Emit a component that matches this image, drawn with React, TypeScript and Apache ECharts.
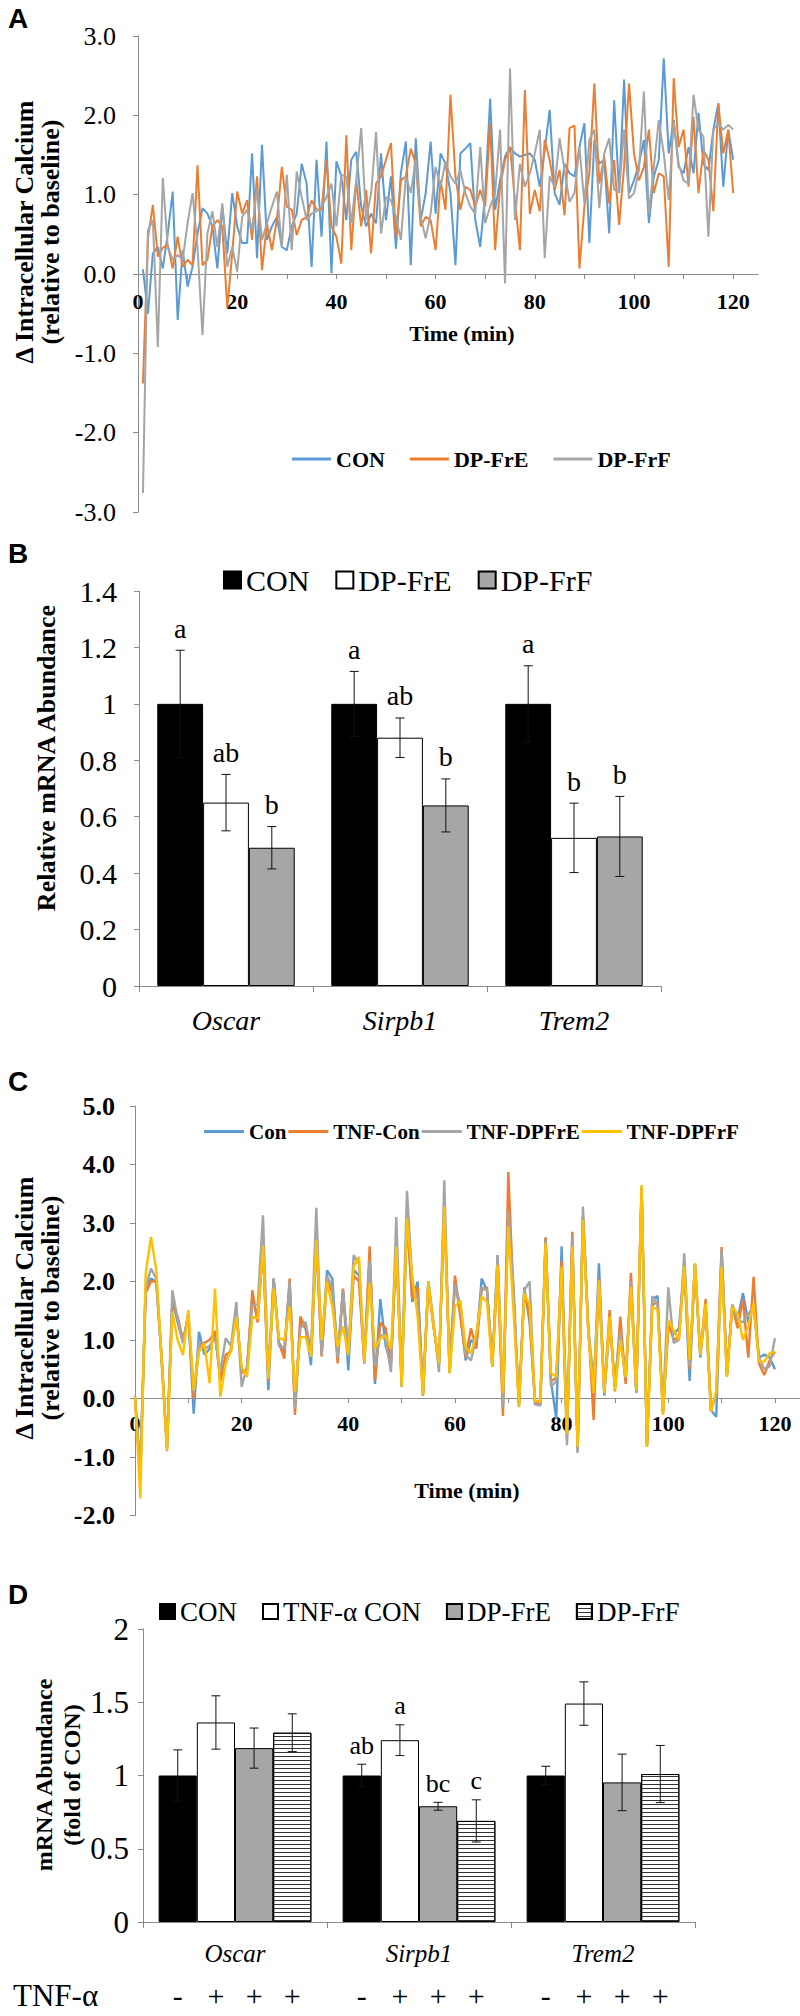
import React, { useEffect, useRef } from 'react';
import * as echarts from 'echarts';

const SERIF = "'Times New Roman', 'Liberation Serif', serif";
const SANS = "Arial, 'Liberation Sans', sans-serif";

// ---------- Panel A (t = 1..120 min) ----------
const aNames = ['CON', 'DP-FrE', 'DP-FrF'];
const aCon = [
  0.06, -0.5, 0.26, 0.34, 0.07, 0.51, 1.04, -0.58, 0.3, -0.16,
  0.09, 0.51, 0.83, 0.76, 0.6, 0.07, 0.85, 0.26, 1.02, 0.6,
  0.39, 0.39, 1.52, 0.2, 1.63, 0.43, 0.6, 0.72, 0.34, 0.3,
  0.6, 0.76, 1.39, 1.14, 0.09, 1.44, 0.47, 1.67, 0.01, 1.42,
  1.23, 0.68, 1.44, 1.54, 0.85, 0.6, 0.76, 0.64, 1.52, 0.68,
  1.23, 0.32, 1.27, 1.67, 0.11, 1.71, 0.68, 1.02, 1.67, 0.76,
  1.52, 1.39, 1.02, 0.11, 1.52, 1.58, 1.65, 0.68, 0.34, 1.02,
  2.21, 0.81, 1.18, 1.48, 1.6, 1.52, 1.48, 1.5, 1.52, 1.44,
  1.1, 1.56, 2.07, 1.02, 0.87, 1.39, 1.27, 1.23, 1.6, 1.9,
  0.39, 1.69, 1.39, 1.44, 0.51, 2.19, 1.02, 2.45, 1.02, 1.18,
  1.39, 1.69, 0.64, 1.23, 1.44, 2.72, 1.52, 1.94, 1.35, 1.27,
  1.6, 1.27, 2.03, 1.39, 1.31, 1.82, 2.15, 1.1, 1.82, 1.44,
];
const aFrE = [
  -1.38, 0.45, 0.87, 0.22, 0.33, 0.37, 0.07, 0.47, 0.09, 0.18,
  0.11, 1.37, 0.11, 0.18, 0.6, 0.68, 0.6, -0.43, 0.26, 1.04,
  0.76, 0.93, 0.43, 1.23, 0.05, 0.64, 0.3, 0.68, 1.35, 0.85,
  0.81, 0.49, 0.68, 0.72, 0.93, 0.81, 0.81, 1.44, 0.6, 0.47,
  0.13, 1.75, 0.3, 1.18, 0.6, 1.06, 0.26, 1.14, 1.23, 1.44,
  1.65, 0.47, 1.18, 1.23, 1.58, 1.39, 0.6, 0.72, 0.68, 0.3,
  1.18, 0.81, 2.26, 1.23, 0.81, 1.1, 1.06, 0.85, 1.06, 0.85,
  1.9, 0.3, 1.1, 1.44, 1.6, 0.93, 0.3, 2.32, 0.76, 1.06,
  0.79, 1.69, 1.44, 1.06, 1.31, 0.74, 1.84, 1.87, 0.07, 0.85,
  1.27, 2.4, 1.14, 1.48, 0.89, 1.44, 0.62, 1.35, 2.4, 1.52,
  1.18, 1.35, 1.82, 1.02, 1.27, 1.23, 0.09, 2.47, 1.6, 1.82,
  1.1, 1.98, 1.02, 1.56, 1.44, 0.79, 2.15, 1.52, 1.82, 1.02,
];
const aFrF = [
  -2.76, 0.55, 0.68, -0.92, 1.21, 0.34, 0.18, 0.24, 0.18, 0.64,
  1.02, 0.34, -0.77, 0.51, 0.79, 0.34, 0.89, 0.09, 0.34, 0.03,
  0.72, 0.81, 0.55, 1.08, 0.43, 0.64, 0.85, 1.04, 0.34, 1.25,
  0.3, 1.29, 0.97, 0.68, 0.76, 0.79, 0.85, 0.97, 1.14, 0.6,
  1.25, 1.23, 0.64, 1.18, 1.84, 0.68, 1.02, 1.79, 0.51, 0.97,
  0.93, 0.72, 0.43, 1.23, 1.02, 1.44, 0.72, 0.45, 0.76, 1.35,
  1.1, 1.42, 1.23, 1.14, 1.31, 1.02, 0.85, 0.76, 1.6, 0.64,
  0.85, 1.02, 1.82, -0.12, 2.59, 0.68, 1.39, 1.1, 1.27, 1.52,
  1.82, 0.2, 1.23, 1.1, 1.71, 1.31, 0.91, 1.02, 1.6, 0.89,
  1.69, 1.82, 0.83, 1.52, 1.71, 1.06, 1.04, 1.82, 0.95, 1.02,
  1.31, 2.3, 0.76, 1.35, 1.94, 1.52, 0.93, 1.92, 1.39, 1.18,
  1.14, 2.26, 1.82, 1.73, 0.47, 1.82, 1.9, 1.82, 1.88, 1.82,
];

// ---------- Panel B ----------
const genes = ['Oscar', 'Sirpb1', 'Trem2'];
const bNames = ['CON', 'DP-FrE', 'DP-FrF'];
const bMean = [
  [1.0, 1.0, 1.0],
  [0.65, 0.88, 0.525],
  [0.49, 0.64, 0.53],
];
const bErr = [
  [0.19, 0.115, 0.135],
  [0.1, 0.07, 0.123],
  [0.075, 0.094, 0.142],
];
const bLetters = [
  ['a', 'a', 'a'],
  ['ab', 'ab', 'b'],
  ['b', 'b', 'b'],
];

// ---------- Panel C (t = 0..120 min) ----------
const cNames = ['Con', 'TNF-Con', 'TNF-DPFrE', 'TNF-DPFrF'];
const cCon = [
  0.0, -1.3, 1.9, 2.05, 2.0, 0.7, -0.85, 1.7, 1.3, 0.95,
  1.45, -0.26, 1.14, 0.75, 0.85, 1.1, 0.35, 0.6, 0.85, 1.5,
  0.45, 0.5, 1.75, 1.35, 2.65, 0.14, 2.05, 0.95, 0.8, 1.95,
  -0.1, 1.3, 1.2, 0.57, 2.7, 0.75, 2.19, 2.05, 0.7, 1.85,
  0.48, 2.2, 2.1, 0.65, 2.4, 0.25, 1.7, 0.9, 0.6, 2.6,
  0.2, 3.1, 1.65, 2.0, 0.05, 2.0, 1.25, 0.55, 3.3, 0.45,
  2.0, 1.5, 0.65, 1.0, 0.9, 2.05, 1.85, 0.55, 2.45, -0.1,
  3.2, 1.7, -0.1, 1.9, 1.3, -0.05, -0.1, 2.75, 0.3, -0.35,
  2.6, -0.6, 2.75, -0.85, 3.1, 1.15, 0.1, 2.31, 0.05, 1.3,
  0.2, 1.1, 0.3, 1.95, 0.1, 3.62, -0.82, 1.7, 1.75, -0.25,
  1.2, 1.1, 1.2, 2.25, 0.3, 2.3, 0.7, 1.6, -0.2, -0.31,
  2.5, 0.4, 1.6, 1.35, 1.8, 1.3, 1.6, 0.7, 0.75, 0.7,
  0.5,
];
const cTnfCon = [
  0.0, -1.3, 1.8, 2.0, 2.0, 0.7, -0.85, 1.6, 1.4, 1.0,
  1.4, 0.0, 0.85, 0.95, 1.0, 1.15, 0.3, 0.75, 0.8, 1.5,
  0.45, 0.45, 1.85, 1.3, 2.6, 0.3, 2.05, 0.95, 0.68, 2.05,
  -0.28, 1.4, 1.2, 0.75, 2.75, 0.72, 2.05, 1.8, 0.6, 1.88,
  0.75, 2.1, 2.0, 0.6, 2.6, 0.3, 1.3, 1.2, 0.6, 2.6,
  0.3, 3.1, 1.7, 1.9, 0.05, 1.95, 1.2, 0.6, 3.3, 0.45,
  2.1, 1.4, 0.7, 1.2, 0.85, 1.85, 1.9, 0.55, 2.2, -0.3,
  3.87, 1.7, -0.1, 1.85, 1.4, -0.05, -0.1, 2.75, 0.3, 0.35,
  2.35, -0.7, 2.85, -0.9, 3.1, 1.25, -0.37, 2.05, 0.1, 1.51,
  0.12, 1.4, 0.25, 2.15, 0.1, 3.6, -0.8, 1.6, 1.65, -0.25,
  1.3, 1.0, 1.05, 2.3, 0.5, 2.3, 0.75, 1.7, -0.2, 0.1,
  2.59, 0.4, 1.6, 1.2, 1.7, 0.7, 2.08, 0.6, 0.4, 0.65,
  0.8,
];
const cTnfFrE = [
  0.05, -1.2, 1.9, 2.22, 2.05, 0.6, -0.9, 1.85, 1.35, 0.95,
  1.45, 0.1, 0.95, 0.85, 0.9, 1.05, 0.45, 1.03, 0.9, 1.65,
  0.2, 0.55, 1.6, 1.6, 3.13, 0.4, 2.05, 0.9, 0.85, 2.0,
  -0.17, 1.2, 1.31, 0.8, 3.26, 0.75, 2.1, 1.9, 0.7, 1.85,
  0.8, 2.45, 2.3, 0.6, 2.35, 0.55, 1.1, 1.0, 0.45, 3.1,
  0.3, 3.55, 2.0, 1.7, 0.1, 2.0, 1.3, 0.45, 3.73, 0.45,
  1.95, 1.6, 0.75, 0.65, 1.05, 1.9, 1.85, 0.6, 2.45, -0.15,
  3.2, 1.9, -0.15, 1.85, 2.0, -0.1, -0.12, 2.7, 0.2, 0.3,
  2.2, -0.8, 2.75, -0.93, 3.28, 1.2, 0.3, 2.0, 0.1, 1.3,
  0.3, 1.15, 0.35, 2.0, 0.1, 3.6, -0.8, 1.75, 1.6, -0.2,
  1.9, 0.95, 1.0, 2.48, 0.55, 2.3, 0.8, 1.5, -0.2, 0.05,
  2.55, 0.4, 1.6, 1.35, 1.3, 1.45, 1.55, 0.7, 0.5, 0.55,
  1.03,
];
const cTnfFrF = [
  0.03, -1.71, 2.14, 2.76, 2.19, 0.66, -0.88, 1.48, 1.0, 0.74,
  1.51, 0.14, 0.8, 0.94, 0.26, 1.88, 0.03, 0.6, 0.83, 1.4,
  0.54, 0.37, 1.4, 1.37, 2.62, 0.34, 1.88, 1.03, 1.0, 1.57,
  0.11, 1.05, 1.05, 0.71, 2.71, 1.0, 2.0, 1.57, 0.88, 1.23,
  0.74, 2.25, 2.42, 0.63, 1.97, 0.85, 1.03, 1.08, 0.85, 2.59,
  0.2, 3.08, 2.08, 1.4, 0.06, 2.0, 1.23, 0.6, 3.28, 0.43,
  1.57, 1.68, 0.88, 0.77, 1.11, 1.74, 1.65, 0.54, 2.28, 0.09,
  2.93, 1.46, -0.14, 1.8, 1.6, -0.03, -0.06, 2.65, 0.43, 0.37,
  2.25, -0.6, 2.6, -0.83, 3.05, 1.11, 0.09, 2.02, 0.09, 1.4,
  0.14, 1.0, 0.37, 1.91, 0.14, 3.65, -0.83, 1.57, 1.51, -0.28,
  1.34, 1.17, 1.0, 2.25, 0.66, 2.31, 0.74, 1.62, -0.23, 0.14,
  2.25, 0.37, 1.57, 1.45, 1.0, 1.23, 1.62, 0.63, 0.63, 0.77,
  0.8,
];

// ---------- Panel D ----------
const dNames = ['CON', 'TNF-α CON', 'DP-FrE', 'DP-FrF'];
const dMean = [
  [1.0, 1.0, 1.0],
  [1.362, 1.241, 1.491],
  [1.187, 0.79, 0.953],
  [1.292, 0.69, 1.01],
];
const dErr = [
  [0.175, 0.077, 0.063],
  [0.182, 0.105, 0.148],
  [0.137, 0.027, 0.193],
  [0.129, 0.144, 0.195],
];
const dLetters = [
  ['', 'ab', ''],
  ['', 'a', ''],
  ['', 'bc', ''],
  ['', 'c', ''],
];
const tnfSigns = ['-', '+', '+', '+'];

const AXIS_GRAY = '#8a8a8a';
const lineColorsA = ['#5B9BD5', '#ED7D31', '#A5A5A5'];
const lineColorsC = ['#5B9BD5', '#ED7D31', '#A5A5A5', '#FFC000'];

function errorSeries(
  id: string, axisIdx: number, means: number[][], errs: number[][], letters: string[][],
  catGap: number, letterFont: string, letterGap: number, signs?: string[], signOffset?: number,
) {
  const n = means.length;
  const data: number[][] = [];
  means.forEach((row, k) => row.forEach((m, c) => data.push([c, k, m, m - errs[k][c], m + errs[k][c]])));
  return {
    type: 'custom', id, xAxisIndex: axisIdx, yAxisIndex: axisIdx, silent: true, z: 10,
    encode: { x: 0, y: [2, 3, 4] },
    data,
    renderItem: (params: any, api: any) => {
      const c = api.value(0);
      const k = api.value(1);
      const band = api.size([1, 0])[0];
      const bw = (band * (1 - catGap)) / n;
      const cx = api.coord([c, 0])[0] + (k - (n - 1) / 2) * bw;
      const y0 = api.coord([c, 0])[1];
      const yLo = api.coord([c, api.value(3)])[1];
      const yHi = api.coord([c, api.value(4)])[1];
      const st = { stroke: '#111', lineWidth: 1 };
      const children: any[] = [
        { type: 'line', shape: { x1: cx, y1: yLo, x2: cx, y2: yHi }, style: st },
        { type: 'line', shape: { x1: cx - 4.5, y1: yHi, x2: cx + 4.5, y2: yHi }, style: st },
        { type: 'line', shape: { x1: cx - 4.5, y1: yLo, x2: cx + 4.5, y2: yLo }, style: st },
      ];
      const letter = letters[k][c];
      if (letter) {
        children.push({
          type: 'text',
          style: { text: letter, x: cx, y: yHi - letterGap, align: 'center', verticalAlign: 'bottom', font: letterFont, fill: '#000' },
        });
      }
      if (signs) {
        children.push({
          type: 'text',
          style: { text: signs[k], x: cx, y: y0 + (signOffset || 0), align: 'center', verticalAlign: 'middle', font: `30px ${SERIF}`, fill: '#000' },
        });
      }
      return { type: 'group', children };
    },
  };
}

function vText(text: string, x: number, y: number, font: string) {
  return {
    type: 'text', x, y, rotation: Math.PI / 2, silent: true,
    style: { text, x: 0, y: 0, align: 'center', verticalAlign: 'middle', textAlign: 'center', textVerticalAlign: 'middle', font, fill: '#000' },
  };
}
function hText(text: string, x: number, y: number, font: string, align = 'center', vAlign = 'middle') {
  return {
    type: 'text', x, y, silent: true,
    style: { text, x: 0, y: 0, align, verticalAlign: vAlign, textAlign: align, textVerticalAlign: vAlign, font, fill: '#000' },
  };
}

function buildOption() {
  const strip = (n: string) => n.slice(2);
  // x axis drawn through y = 0 by offsetting it up from the grid bottom
  const valueX = (gridIndex: number, max: number, fontSize: number, margin: number, offset: number) => ({
    type: 'value', gridIndex, min: 0, max, interval: 10, offset,
    axisLine: { show: true, onZero: false, lineStyle: { color: AXIS_GRAY, width: 1 } },
    axisTick: { show: true, length: 5, lineStyle: { color: AXIS_GRAY } },
    axisLabel: {
      formatter: (v: number) => (v % 20 === 0 ? String(v) : ''), showMaxLabel: false,
      fontFamily: SERIF, fontWeight: 'bold', fontSize, color: '#000', margin,
    },
    splitLine: { show: false },
  });
  const valueY = (gridIndex: number, min: number, max: number, interval: number, font: any, margin: number, fixed: boolean) => ({
    type: 'value', gridIndex, min, max, interval,
    axisLine: { show: true, onZero: false, lineStyle: { color: AXIS_GRAY, width: 1 } },
    axisTick: { show: true, length: 5, lineStyle: { color: AXIS_GRAY } },
    axisLabel: { ...font, color: '#000', margin, formatter: fixed ? (v: number) => v.toFixed(1) : undefined },
    splitLine: { show: false },
  });
  const catX = (gridIndex: number, fontSize: number, margin: number) => ({
    type: 'category', gridIndex, data: genes,
    axisLine: { show: true, lineStyle: { color: AXIS_GRAY, width: 1 } },
    axisTick: { show: true, length: 6, lineStyle: { color: AXIS_GRAY } },
    axisLabel: { fontFamily: SERIF, fontStyle: 'italic', fontSize, color: '#000', margin },
    splitLine: { show: false },
  });

  const aSeries = [aCon, aFrE, aFrF].map((arr, i) => ({
    type: 'line', name: 'A:' + aNames[i], xAxisIndex: 0, yAxisIndex: 0,
    data: arr.map((v, t) => [t + 1, v]), symbol: 'none', color: lineColorsA[i],
    lineStyle: { width: 2, color: lineColorsA[i] },
  }));
  const cSeries = [cCon, cTnfCon, cTnfFrE, cTnfFrF].map((arr, i) => ({
    type: 'line', name: 'C:' + cNames[i], xAxisIndex: 2, yAxisIndex: 2,
    data: arr.map((v, t) => [t, v]), symbol: 'none', color: lineColorsC[i],
    lineStyle: { width: 2.4, color: lineColorsC[i] },
  }));
  const bColors = ['#000000', '#ffffff', '#a6a6a6'];
  const bSeries = bMean.map((row, i) => ({
    type: 'bar', name: 'B:' + bNames[i], xAxisIndex: 1, yAxisIndex: 1, data: row,
    barGap: '0%', barCategoryGap: '21%',
    itemStyle: { color: bColors[i], borderColor: '#000', borderWidth: 1 },
  }));
  const dColors = ['#000000', '#ffffff', '#a6a6a6', '#ffffff'];
  const dSeries = dMean.map((row, i) => ({
    type: 'bar', name: 'D:' + dNames[i], xAxisIndex: 3, yAxisIndex: 3, data: row,
    barGap: '0%', barCategoryGap: '17%',
    itemStyle: {
      color: dColors[i], borderColor: '#000', borderWidth: 1,
      ...(i === 3 ? { decal: { symbol: 'rect', symbolSize: 1, dashArrayX: [1, 0], dashArrayY: [1, 3], color: '#333', rotation: 0 } } : {}),
    },
  }));

  return {
    animation: false,
    backgroundColor: '#ffffff',
    grid: [
      { left: 138, top: 36, width: 620, height: 476 },
      { left: 139, top: 591, width: 522, height: 395 },
      { left: 135, top: 1106, width: 665, height: 409.5 },
      { left: 143, top: 1629, width: 552, height: 293 },
    ],
    xAxis: [
      valueX(0, 125, 22, 16, -238),
      catX(1, 28, 20),
      valueX(2, 124.7, 22, 14, -117.5),
      catX(3, 25, 19),
    ],
    yAxis: [
      valueY(0, -3, 3, 1, { fontFamily: SERIF, fontSize: 26 }, 22, true),
      valueY(1, 0, 1.4, 0.2, { fontFamily: SERIF, fontSize: 30 }, 22, false),
      valueY(2, -2, 5, 1, { fontFamily: SERIF, fontSize: 26, fontWeight: 'bold' }, 20, true),
      valueY(3, 0, 2, 0.5, { fontFamily: SERIF, fontSize: 31 }, 14, false),
    ],
    legend: [
      {
        data: aNames.map((n) => 'A:' + n), left: 287, top: 443, icon: 'rect', itemWidth: 39, itemHeight: 3, itemGap: 25,
        formatter: strip, selectedMode: false, textStyle: { fontFamily: SERIF, fontWeight: 'bold', fontSize: 22, color: '#000' },
      },
      {
        data: bNames.map((n) => 'B:' + n), left: 218, top: 560, icon: 'rect', itemWidth: 17, itemHeight: 17, itemGap: 26,
        formatter: strip, selectedMode: false, textStyle: { fontFamily: SERIF, fontSize: 30, color: '#000' },
      },
      {
        data: cNames.map((n) => 'C:' + n), left: 199, top: 1116, icon: 'rect', itemWidth: 40, itemHeight: 3, itemGap: 2,
        formatter: strip, selectedMode: false, textStyle: { fontFamily: SERIF, fontWeight: 'bold', fontSize: 21, color: '#000' },
      },
      {
        data: dNames.map((n) => 'D:' + n), left: 154, top: 1593, icon: 'rect', itemWidth: 15, itemHeight: 15, itemGap: 25,
        formatter: strip, selectedMode: false, textStyle: { fontFamily: SERIF, fontSize: 27, color: '#000' },
      },
    ],
    graphic: [
      hText('A', 8, 4, `bold 28px ${SANS}`, 'left', 'top'),
      hText('B', 8, 539, `bold 28px ${SANS}`, 'left', 'top'),
      hText('C', 8, 1067, `bold 28px ${SANS}`, 'left', 'top'),
      hText('D', 8, 1580, `bold 28px ${SANS}`, 'left', 'top'),
      vText('Δ Intracellular Calcium', 24, 232, `bold 26px ${SERIF}`),
      vText('(relative to baseline)', 50, 232, `bold 26px ${SERIF}`),
      hText('Time (min)', 462, 333, `bold 22px ${SERIF}`),
      vText('Relative mRNA Abundance', 46, 758, `bold 26px ${SERIF}`),
      vText('Δ Intracellular Calcium', 24, 1308, `bold 26px ${SERIF}`),
      vText('(relative to baseline)', 50, 1308, `bold 26px ${SERIF}`),
      hText('Time (min)', 467, 1490, `bold 22px ${SERIF}`),
      vText('mRNA Abundance', 44, 1775, `bold 24px ${SERIF}`),
      vText('(fold of CON)', 72, 1775, `bold 24px ${SERIF}`),
      hText('TNF-α', 13, 1995, `31px ${SERIF}`, 'left', 'middle'),
    ],
    series: [
      ...aSeries,
      ...bSeries,
      errorSeries('errB', 1, bMean, bErr, bLetters, 0.21, `28px ${SERIF}`, 8),
      ...cSeries,
      ...dSeries,
      errorSeries('errD', 3, dMean, dErr, dLetters, 0.17, `26px ${SERIF}`, 6, tnfSigns, 73),
    ],
  };
}

export default function App() {
  const ref = useRef<HTMLDivElement>(null);
  useEffect(() => {
    if (!ref.current) return;
    const chart = echarts.init(ref.current, null, { renderer: 'svg' });
    chart.setOption(buildOption() as any);
    return () => chart.dispose();
  }, []);
  return (
    <div
      ref={ref}
      style={{ position: 'absolute', left: 0, top: 0, width: 800, height: 2016, background: '#fff' }}
    />
  );
}
